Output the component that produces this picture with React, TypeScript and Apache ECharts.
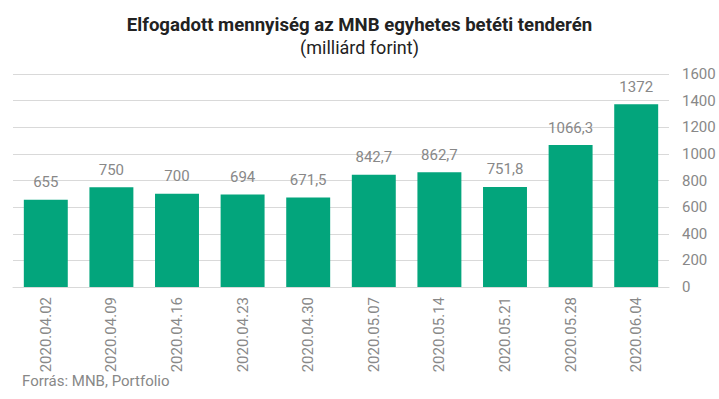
import React, { useEffect, useRef } from "react";
import * as echarts from "echarts";

const categories = ["2020.04.02", "2020.04.09", "2020.04.16", "2020.04.23", "2020.04.30", "2020.05.07", "2020.05.14", "2020.05.21", "2020.05.28", "2020.06.04"];
const values = [655, 750, 700, 694, 671.5, 842.7, 862.7, 751.8, 1066.3, 1372];
const valueLabels = ["655", "750", "700", "694", "671,5", "842,7", "862,7", "751,8", "1066,3", "1372"];

export default function App() {
  const ref = useRef<HTMLDivElement>(null);
  useEffect(() => {
    const chart = echarts.init(ref.current!, null, { renderer: "svg" });
    chart.setOption({
      animation: false,
      textStyle: { fontFamily: "Roboto" },
      title: {
        text: "Elfogadott mennyiség az MNB egyhetes betéti tenderén",
        subtext: "(milliárd forint)",
        left: "center",
        top: 10,
        itemGap: 4,
        textStyle: { fontFamily: "Roboto", fontWeight: "bold", fontSize: 18.6, color: "#222" },
        subtextStyle: { fontFamily: "Roboto", fontSize: 18, color: "#222" },
      },
      graphic: [
        {
          type: "text",
          left: 22,
          top: 373,
          style: { text: "Forrás: MNB, Portfolio", fontFamily: "Roboto", fontSize: 15, fill: "#888" },
        },
      ],
      grid: { left: 13, right: 50, top: 74, bottom: 112, containLabel: false },
      xAxis: {
        type: "category",
        data: categories,
        axisLine: { lineStyle: { color: "#d9d9d9" } },
        axisTick: { show: false },
        axisLabel: { rotate: 90, color: "#888", fontSize: 15, margin: 10, fontFamily: "Roboto" },
      },
      yAxis: {
        type: "value",
        position: "right",
        min: 0,
        max: 1600,
        interval: 200,
        axisLine: { show: false },
        axisTick: { show: false },
        splitLine: { lineStyle: { color: "#d9d9d9" } },
        axisLabel: { color: "#888", fontSize: 15, margin: 13, align: "left", fontFamily: "Roboto", formatter: (v: number) => String(v) },
      },
      series: [
        {
          type: "bar",
          data: values,
          barWidth: "67%",
          itemStyle: { color: "#03a57c" },
          label: {
            show: true,
            position: "top",
            distance: 10,
            color: "#888",
            fontSize: 15,
            fontFamily: "Roboto",
            formatter: (p: any) => valueLabels[p.dataIndex],
          },
        },
      ],
    });
    return () => chart.dispose();
  }, []);
  return <div ref={ref} style={{ width: 719, height: 399, position: "absolute", left: 0, top: 0 }} />;
}
